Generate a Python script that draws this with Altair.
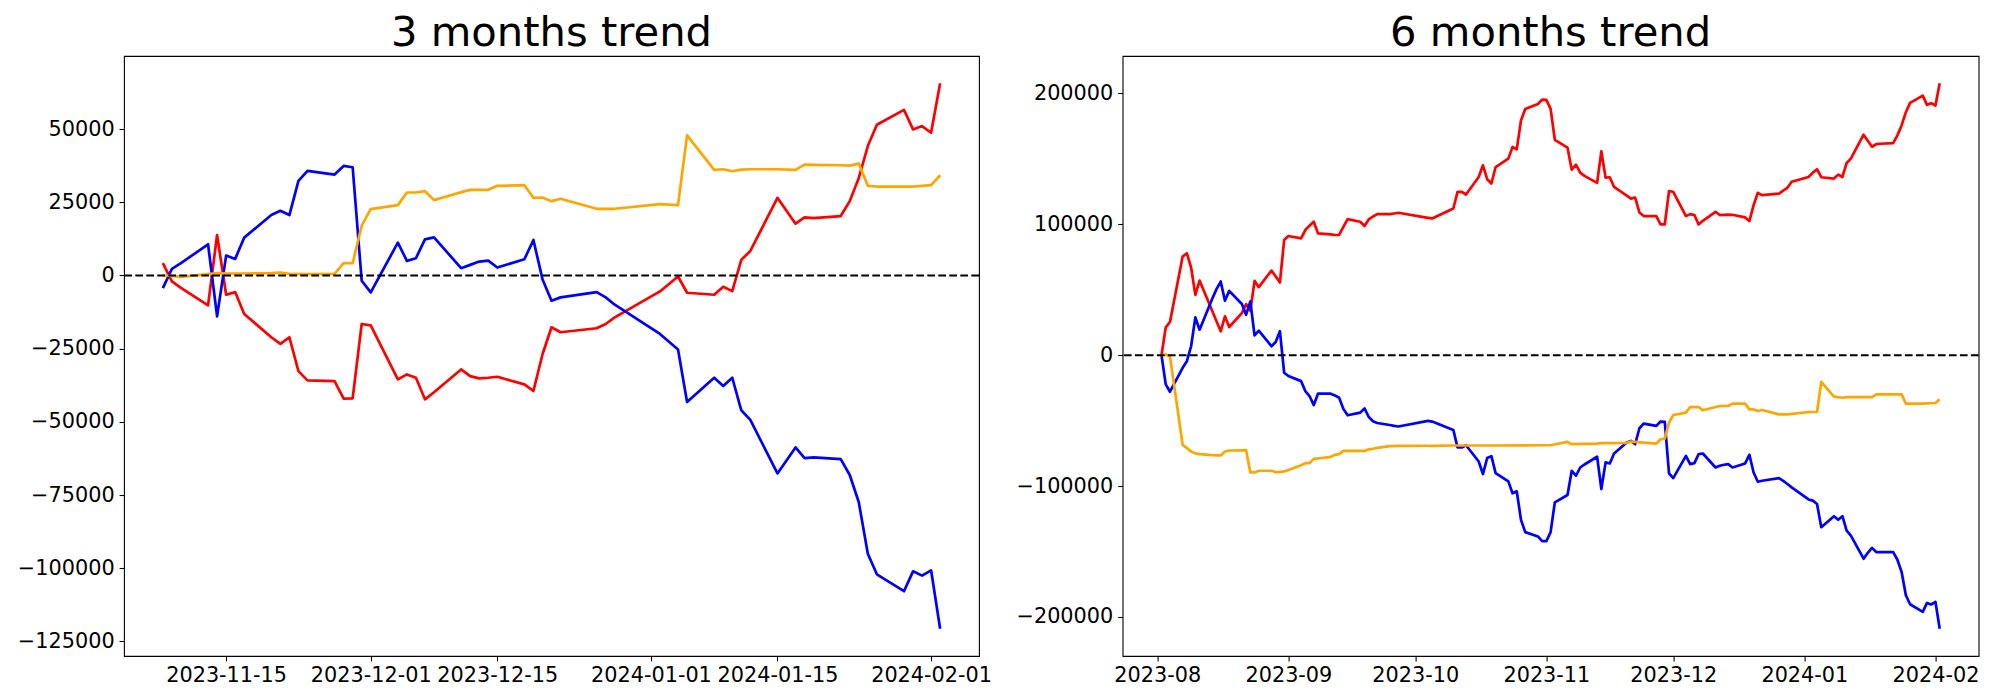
import altair as alt
import pandas as pd

# ---------------- 3 months panel ----------------
L_DATES = [
    "2023-11-08", "2023-11-09", "2023-11-10", "2023-11-13", "2023-11-14", "2023-11-15",
    "2023-11-16", "2023-11-17", "2023-11-20", "2023-11-21", "2023-11-22", "2023-11-23",
    "2023-11-24", "2023-11-27", "2023-11-28", "2023-11-29", "2023-11-30",
    "2023-12-01", "2023-12-04", "2023-12-05", "2023-12-06", "2023-12-07", "2023-12-08",
    "2023-12-11", "2023-12-12", "2023-12-13", "2023-12-14", "2023-12-15", "2023-12-18",
    "2023-12-19", "2023-12-20", "2023-12-21", "2023-12-22", "2023-12-26", "2023-12-27",
    "2023-12-28",
    "2024-01-02", "2024-01-04", "2024-01-05", "2024-01-08", "2024-01-09", "2024-01-10",
    "2024-01-11", "2024-01-12", "2024-01-15", "2024-01-17", "2024-01-18", "2024-01-19",
    "2024-01-22", "2024-01-23", "2024-01-24", "2024-01-25", "2024-01-26", "2024-01-29",
    "2024-01-30", "2024-01-31", "2024-02-01", "2024-02-02",
]
L_RED = [
    4200, -2040, -4260, -10200, 13830, -6580, -5670, -13150, -21090, -23360, -21090, -32660,
    -35830, -36060, -42070, -41960, -16560,
    -17010, -35490, -33790, -34930, -42300, -39900, -32090, -34360, -35150, -34930, -34590,
    -37200, -39460, -26990, -17690, -19390, -18030, -16560, -14290,
    -5440, -340, -5900, -6580, -3860, -5330, 5330, 8390, 26540, 17690, 19850, 19620,
    20300, 25400, 33340, 44230, 51480, 56590, 49900, 51030, 48760, 65660,
]
L_BLUE = [
    -4300, 2270, 4200, 10660, -13950, 6800, 5670, 12930, 20640, 22100, 20640, 32320,
    35720, 34470, 37420, 36970, -1810,
    -5780, 11230, 4990, 5900, 12360, 13040, 2500, 3630, 4760, 5100, 2720, 5560,
    12130, -1250, -8620, -7480, -5670, -7480, -9980,
    -19960, -25290, -43200, -34930, -37770, -34930, -46040, -49330, -67610, -58740, -62370,
    -62140, -62710, -68160, -77460, -95040, -102070, -107850, -101050, -102520, -100710,
    -120660,
]
L_ORANGE = [
    0, -100, -450, 450, 800, 700, 680, 680, 800, 1000, 570, 450,
    450, 570, 4200, 4200, 17010,
    22680, 24040, 28350, 28350, 28800, 25740, 28460, 29260, 29260, 29260, 30620, 30840,
    26540, 26650, 25400, 26200, 22790, 22790, 22790,
    24380, 24040, 47850, 36060, 36290, 35610, 36170, 36290, 36290, 36060, 37880, 37800,
    37650, 37540, 38220, 30620, 30390, 30390, 30390, 30600, 30840, 34250,
]

# ---------------- 6 months panel ----------------
R_DATES = [
    "2023-08-02", "2023-08-03", "2023-08-04", "2023-08-07", "2023-08-08", "2023-08-09",
    "2023-08-10", "2023-08-11", "2023-08-14", "2023-08-15", "2023-08-16", "2023-08-17",
    "2023-08-18", "2023-08-21", "2023-08-22", "2023-08-23", "2023-08-24", "2023-08-25",
    "2023-08-28", "2023-08-29", "2023-08-30", "2023-08-31",
    "2023-09-01", "2023-09-04", "2023-09-05", "2023-09-06", "2023-09-07", "2023-09-08",
    "2023-09-11", "2023-09-12", "2023-09-13", "2023-09-14", "2023-09-15", "2023-09-18",
    "2023-09-19", "2023-09-20", "2023-09-21", "2023-09-22", "2023-09-25", "2023-09-26",
    "2023-09-27",
    "2023-10-04", "2023-10-05", "2023-10-10", "2023-10-11", "2023-10-12", "2023-10-13",
    "2023-10-16", "2023-10-17", "2023-10-18", "2023-10-19", "2023-10-20", "2023-10-23",
    "2023-10-24", "2023-10-25", "2023-10-26", "2023-10-27", "2023-10-30", "2023-10-31",
    "2023-11-01", "2023-11-02", "2023-11-03", "2023-11-06", "2023-11-07", "2023-11-08",
    "2023-11-09", "2023-11-10", "2023-11-13", "2023-11-14", "2023-11-15", "2023-11-16",
    "2023-11-17", "2023-11-20", "2023-11-21", "2023-11-22", "2023-11-23", "2023-11-24",
    "2023-11-27", "2023-11-28", "2023-11-29", "2023-11-30",
    "2023-12-01", "2023-12-04", "2023-12-05", "2023-12-06", "2023-12-07", "2023-12-08",
    "2023-12-11", "2023-12-12", "2023-12-13", "2023-12-14", "2023-12-15", "2023-12-18",
    "2023-12-19", "2023-12-20", "2023-12-21", "2023-12-22", "2023-12-26", "2023-12-27",
    "2023-12-28", "2023-12-29",
    "2024-01-02", "2024-01-03", "2024-01-04", "2024-01-05", "2024-01-08", "2024-01-09",
    "2024-01-10", "2024-01-11", "2024-01-12", "2024-01-15", "2024-01-16", "2024-01-17",
    "2024-01-18", "2024-01-19", "2024-01-22", "2024-01-23", "2024-01-24", "2024-01-25",
    "2024-01-26", "2024-01-29", "2024-01-30", "2024-01-31",
    "2024-02-01", "2024-02-02",
]
R_RED = [
    0, 21300, 25370, 75350, 77890, 66980, 46170, 57080, 33800, 26000, 18270, 29680,
    21560, 32220, 39070, 34000, 56830, 52000, 64690, 60100, 55560, 88030,
    91080, 89300, 95640, 99000, 102000, 93100, 92350, 91840, 92000, 98000, 104000, 102000,
    98690, 103760, 106000, 107800, 107800, 108300, 108840,
    105000, 104500, 112100, 124800, 124800, 122800, 136200, 145100, 134500, 131200, 143800,
    150200, 159100, 157300, 179400, 188200, 192000, 195300,
    195100, 188200, 164600, 158600, 141800, 145600, 139500, 137000, 131700, 155800, 135700,
    136000, 128600, 122000, 119700, 120500, 109100, 106300, 106300, 100000, 100000, 125400,
    124900, 106300, 107800, 107100, 100000, 102700, 109600, 107100, 107300, 107500, 107300,
    105300, 102500, 114700, 124100, 122300, 123500, 125800, 127900, 132500,
    136200, 139500, 142100, 136000, 135000, 138000, 136200, 146900, 150200, 168500, 163900,
    159300, 161300, 161600, 162100, 168000, 175600, 185700, 192800, 198400, 191300, 192600,
    190800, 207800,
]
R_BLUE = [
    0, -22300, -27900, -9600, -4570, 6850, 28900, 19500, 43100, 50500, 56300, 41600,
    49200, 39100, 31000, 41100, 15200, 18800, 6850, 10150, 18300, -13400,
    -15900, -19800, -27400, -31200, -38100, -29400, -29400, -30700, -32500, -41000, -45900,
    -43900, -40600, -47200, -50500, -51800, -53300, -54000, -54500,
    -50200, -50700, -57100, -70500, -70500, -68800, -81200, -90800, -78600, -77100, -90100,
    -96400, -105500, -104000, -125800, -135200, -138500, -142100,
    -142100, -135200, -112400, -106800, -88300, -92100, -85800, -83500, -77600, -102200,
    -81900, -82700, -75100, -66700, -65500, -68000, -55800, -52300, -54000, -50700, -51000,
    -90300,
    -93900, -76900, -83200, -82500, -75600, -75100, -85800, -84500, -83700, -83200, -85800,
    -82700, -76100, -89600, -96700, -95900, -93900, -96000, -98400, -101000,
    -110200, -111100, -113700, -131400, -123000, -125800, -123000, -134000, -137800,
    -155500, -151000, -147200, -150400, -150400, -150400, -156300, -165700, -183400,
    -190300, -196100, -189300, -190500,
    -188500, -209000,
]
R_ORANGE_DATES = [
    "2023-08-02", "2023-08-03", "2023-08-04", "2023-08-07", "2023-08-08", "2023-08-09",
    "2023-08-10", "2023-08-11", "2023-08-14", "2023-08-15", "2023-08-16", "2023-08-17",
    "2023-08-18", "2023-08-21", "2023-08-22", "2023-08-23", "2023-08-24", "2023-08-25",
    "2023-08-28", "2023-08-29", "2023-08-30", "2023-08-31",
    "2023-09-01", "2023-09-04", "2023-09-05", "2023-09-06", "2023-09-07", "2023-09-08",
    "2023-09-11", "2023-09-12", "2023-09-13", "2023-09-14", "2023-09-15", "2023-09-18",
    "2023-09-19", "2023-09-20", "2023-09-21", "2023-09-22", "2023-09-25", "2023-09-26",
    "2023-09-27",
    "2023-10-04", "2023-10-05", "2023-10-10", "2023-10-20", "2023-10-31",
    "2023-11-02", "2023-11-06", "2023-11-07", "2023-11-13", "2023-11-14", "2023-11-20",
    "2023-11-21", "2023-11-27", "2023-11-28", "2023-11-29", "2023-11-30",
    "2023-12-01", "2023-12-04", "2023-12-05", "2023-12-06", "2023-12-07", "2023-12-08",
    "2023-12-11", "2023-12-12", "2023-12-13", "2023-12-14", "2023-12-15", "2023-12-18",
    "2023-12-19", "2023-12-20", "2023-12-21", "2023-12-22", "2023-12-26", "2023-12-28",
    "2024-01-02", "2024-01-04", "2024-01-05", "2024-01-08", "2024-01-10", "2024-01-11",
    "2024-01-17", "2024-01-18", "2024-01-24", "2024-01-25", "2024-01-29",
    "2024-02-01", "2024-02-02",
]
R_ORANGE = [
    0, 500, -1000, -68500, -71000, -73600, -75000, -75600, -76400, -76500, -76600, -73600,
    -72800, -72700, -72600, -89600, -89600, -88300, -88300, -89300, -89100, -88800,
    -87800, -84000, -82500, -82500, -79200, -78900, -77700, -76100, -75600, -73100, -73100,
    -73100, -73100, -71800, -71500, -70800, -69500, -69400, -69300,
    -69200, -69200, -69000, -69000, -68800,
    -68800, -66200, -68000, -67500, -67200, -67000, -66000, -67500, -64200, -63700, -51500,
    -45700, -43900, -39600, -39600, -39600, -42100, -39600, -38800, -38800, -38800, -37000,
    -37000, -41400, -41400, -42600, -41900, -45200, -45200,
    -43400, -43400, -20300, -31700, -32500, -32000, -32000, -29900, -29900, -37000, -37000,
    -36500, -33700,
]

L_XTICKS = ["2023-11-15", "2023-12-01", "2023-12-15", "2024-01-01", "2024-01-15", "2024-02-01"]
L_YTICKS = [-125000, -100000, -75000, -50000, -25000, 0, 25000, 50000]
R_XTICKS = ["2023-08-01", "2023-09-01", "2023-10-01", "2023-11-01", "2023-12-01",
            "2024-01-01", "2024-02-01"]
R_YTICKS = [-200000, -100000, 0, 100000, 200000]

RED, BLUE, ORANGE = "#ff0000", "#0000ff", "#ffa500"
FONT = "DejaVu Sans"
LW = 2.7
DASH_LW = 2.08


def ms(s):
    return int(pd.Timestamp(s).value // 1_000_000)


def panel(title, series, xticks, xfmt, yticks, w, h):
    xs = [ms(d) for dates, _, _ in series for d in dates]
    ys = [v for _, vals, _ in series for v in vals]
    xm = 0.05 * (max(xs) - min(xs))
    ym = 0.05 * (max(ys) - min(ys))
    xdom = [min(xs) - xm, max(xs) + xm]
    ydom = [min(ys) - ym, max(ys) + ym]
    xenc = alt.X("date:T", scale=alt.Scale(type="utc", domain=xdom),
                 axis=alt.Axis(values=[ms(t) for t in xticks], format=xfmt, title=None))
    yenc = alt.Y("value:Q", scale=alt.Scale(domain=ydom, nice=False, zero=False),
                 axis=alt.Axis(values=yticks, format="d", title=None))
    layers = []
    for dates, vals, color in series:
        df = pd.DataFrame({"date": dates, "value": vals})
        layers.append(
            alt.Chart(df).mark_line(color=color, strokeWidth=LW, strokeJoin="round")
            .encode(x=xenc, y=yenc)
        )
    zero = alt.Chart(pd.DataFrame({"value": [0]})).mark_rule(
        color="black", strokeWidth=DASH_LW, strokeDash=[7.7, 3.3]
    ).encode(y="value:Q")
    return alt.layer(*layers, zero).properties(
        width=w, height=h,
        title=alt.TitleParams(title, fontSize=41.7, font=FONT, fontWeight="normal",
                              color="black", offset=-31.7, baseline="alphabetic",
                              anchor="middle"),
    )


left = panel("3 months trend",
             [(L_DATES, L_RED, RED), (L_DATES, L_BLUE, BLUE), (L_DATES, L_ORANGE, ORANGE)],
             L_XTICKS, "%Y-%m-%d", L_YTICKS, 855, 600)
right = panel("6 months trend",
              [(R_DATES, R_RED, RED), (R_DATES, R_BLUE, BLUE), (R_ORANGE_DATES, R_ORANGE, ORANGE)],
              R_XTICKS, "%Y-%m", R_YTICKS, 856, 600)

chart = (
    alt.hconcat(left, right, spacing=143.6, bounds="flush")
    .properties(padding={"left": 8, "top": 4, "right": 10, "bottom": 10})
    .configure_view(stroke="black", strokeWidth=1.1)
    .configure_axis(
        labelFont=FONT, labelFontSize=20.8, labelColor="black",
        tickColor="black", tickWidth=1.1, tickSize=4.9, labelPadding=4.9,
        domain=False, grid=False, labelFlush=False, labelOverlap=False,
    )
)

chart.save("out.html", embed_options={"renderer": "svg", "actions": False})
